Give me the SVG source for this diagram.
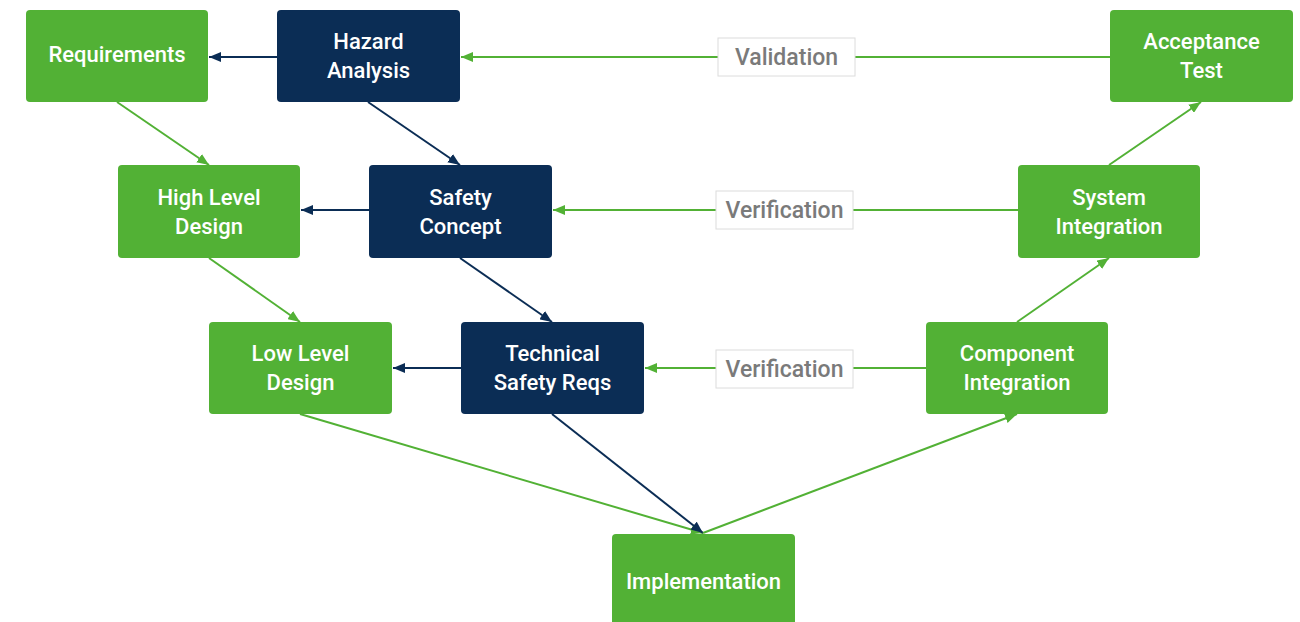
<svg xmlns="http://www.w3.org/2000/svg" width="1300" height="622" viewBox="0 0 1300 622">
<defs>
<style>
.g{fill:#52b135}
.n{fill:#0b2d55}
.t{font-family:Roboto,"Liberation Sans",Arial,sans-serif;font-weight:500;font-size:22px;fill:#ffffff;text-anchor:middle}
.lc{stroke:#52b135;stroke-width:2;fill:none}
.ln{stroke:#0b2d55;stroke-width:2;fill:none}
.lb{fill:#ffffff;stroke:#dcdcdc;stroke-width:1}
.lt{font-family:Roboto,"Liberation Sans",Arial,sans-serif;font-weight:500;font-size:23px;fill:#7a7a7a;text-anchor:middle}
</style>
<marker id="ag" viewBox="0 0 12 10" refX="12" refY="5" markerWidth="12" markerHeight="10" markerUnits="userSpaceOnUse" orient="auto"><path d="M0,0 L12,5 L0,10 z" fill="#52b135"/></marker>
<marker id="an" viewBox="0 0 12 10" refX="12" refY="5" markerWidth="12" markerHeight="10" markerUnits="userSpaceOnUse" orient="auto"><path d="M0,0 L12,5 L0,10 z" fill="#0b2d55"/></marker>
</defs>
<rect width="1300" height="622" fill="#ffffff"/>
<g id="connectors">
<line class="ln" x1="277" y1="57" x2="209" y2="57" marker-end="url(#an)"/>
<line class="lc" x1="117" y1="102" x2="209" y2="165" marker-end="url(#ag)"/>
<line class="ln" x1="368" y1="102" x2="460" y2="165" marker-end="url(#an)"/>
<line class="lc" x1="1110" y1="57" x2="461" y2="57" marker-end="url(#ag)"/>
<line class="ln" x1="369" y1="210" x2="301" y2="210" marker-end="url(#an)"/>
<line class="lc" x1="209" y1="258" x2="300" y2="322" marker-end="url(#ag)"/>
<line class="ln" x1="460" y1="258" x2="552" y2="322" marker-end="url(#an)"/>
<line class="lc" x1="1018" y1="210" x2="553" y2="210" marker-end="url(#ag)"/>
<line class="lc" x1="1109" y1="165" x2="1201" y2="102" marker-end="url(#ag)"/>
<line class="ln" x1="461" y1="368" x2="393" y2="368" marker-end="url(#an)"/>
<line class="lc" x1="926" y1="368" x2="645" y2="368" marker-end="url(#ag)"/>
<line class="lc" x1="1017" y1="322" x2="1109" y2="258" marker-end="url(#ag)"/>
<line class="lc" x1="300" y1="414" x2="703" y2="533" marker-end="url(#ag)"/>
<line class="ln" x1="552" y1="414" x2="703" y2="533" marker-end="url(#an)"/>
<line class="lc" x1="703" y1="533" x2="1017" y2="414" marker-end="url(#ag)"/>
</g>
<g id="label-validation"><rect class="lb" x="718" y="38" width="137" height="38"/><text class="lt" x="786.5" y="65">Validation</text></g>
<g id="label-verification-1"><rect class="lb" x="716" y="191" width="137" height="38"/><text class="lt" x="784.5" y="218">Verification</text></g>
<g id="label-verification-2"><rect class="lb" x="716" y="350" width="137" height="38"/><text class="lt" x="784.5" y="377">Verification</text></g>
<g id="requirements"><rect class="g" x="26" y="10" width="182" height="92" rx="4"/><text class="t" x="117" y="62">Requirements</text></g>
<g id="hazard-analysis"><rect class="n" x="277" y="10" width="183" height="92" rx="4"/><text class="t" x="368.5" y="49">Hazard</text><text class="t" x="368.5" y="78">Analysis</text></g>
<g id="acceptance-test"><rect class="g" x="1110" y="10" width="183" height="92" rx="4"/><text class="t" x="1201.5" y="49">Acceptance</text><text class="t" x="1201.5" y="78">Test</text></g>
<g id="high-level-design"><rect class="g" x="118" y="165" width="182" height="93" rx="4"/><text class="t" x="209" y="204.5">High Level</text><text class="t" x="209" y="233.5">Design</text></g>
<g id="safety-concept"><rect class="n" x="369" y="165" width="183" height="93" rx="4"/><text class="t" x="460.5" y="204.5">Safety</text><text class="t" x="460.5" y="233.5">Concept</text></g>
<g id="system-integration"><rect class="g" x="1018" y="165" width="182" height="93" rx="4"/><text class="t" x="1109" y="204.5">System</text><text class="t" x="1109" y="233.5">Integration</text></g>
<g id="low-level-design"><rect class="g" x="209" y="322" width="183" height="92" rx="4"/><text class="t" x="300.5" y="361">Low Level</text><text class="t" x="300.5" y="390">Design</text></g>
<g id="technical-safety-reqs"><rect class="n" x="461" y="322" width="183" height="92" rx="4"/><text class="t" x="552.5" y="361">Technical</text><text class="t" x="552.5" y="390">Safety Reqs</text></g>
<g id="component-integration"><rect class="g" x="926" y="322" width="182" height="92" rx="4"/><text class="t" x="1017" y="361">Component</text><text class="t" x="1017" y="390">Integration</text></g>
<g id="implementation"><rect class="g" x="612" y="534" width="183" height="100" rx="4"/><text class="t" x="703.5" y="589">Implementation</text></g>
</svg>
